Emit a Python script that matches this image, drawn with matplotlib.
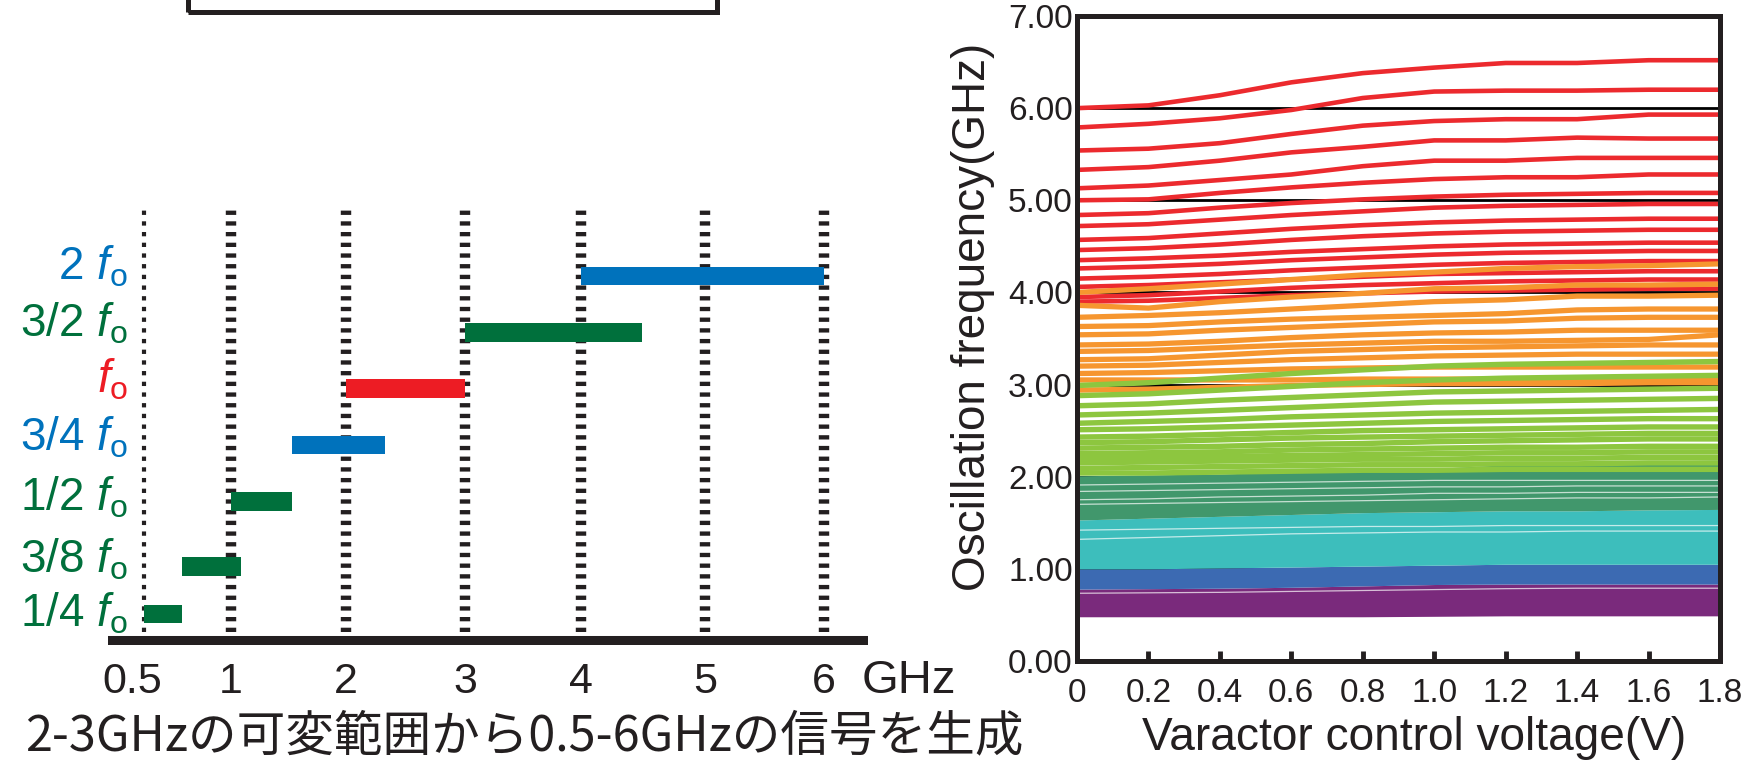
import numpy as np
import matplotlib
matplotlib.use('Agg')
import matplotlib.pyplot as plt
from matplotlib.patches import Rectangle
from matplotlib.transforms import ScaledTranslation

plt.rcParams['font.family'] = ['Liberation Sans', 'DejaVu Sans']
plt.rcParams['mathtext.fontset'] = 'custom'
plt.rcParams['mathtext.rm'] = 'Liberation Sans'
plt.rcParams['mathtext.it'] = 'Liberation Sans:italic'
plt.rcParams['lines.scale_dashes'] = False

# ---- left panel: divider outputs for a 2-3 GHz oscillator ----
grid_freqs = [0.5, 1, 2, 3, 4, 5, 6]
grid_labels = ['0.5', '1', '2', '3', '4', '5', '6']
ratio_labels = ['1/4', '3/8', '1/2', '3/4', '', '3/2', '2']
band_lo = [0.5, 0.72, 1.0, 1.53, 2.0, 3.0, 4.0]
band_hi = [0.72, 1.09, 1.53, 2.33, 3.0, 4.49, 6.0]
caption = '2-3GHzの可変範囲から0.5-6GHzの信号を生成'

# ---- right panel: oscillation frequency vs varactor voltage ----
voltage = [0.0, 0.2, 0.4, 0.6, 0.8, 1.0, 1.2, 1.4, 1.6, 1.8]
volt_labels = ['0', '0.2', '0.4', '0.6', '0.8', '1.0', '1.2', '1.4', '1.6', '1.8']

red_lines = [
    [6.00, 6.03, 6.14, 6.28, 6.38, 6.44, 6.49, 6.49, 6.52, 6.52],
    [5.79, 5.83, 5.89, 5.98, 6.11, 6.18, 6.19, 6.19, 6.20, 6.20],
    [5.54, 5.56, 5.62, 5.72, 5.81, 5.86, 5.88, 5.88, 5.93, 5.93],
    [5.33, 5.36, 5.43, 5.52, 5.58, 5.65, 5.65, 5.68, 5.67, 5.67],
    [5.13, 5.16, 5.22, 5.28, 5.37, 5.43, 5.43, 5.46, 5.46, 5.46],
    [5.00, 5.01, 5.08, 5.14, 5.19, 5.23, 5.25, 5.25, 5.28, 5.28],
    [4.84, 4.86, 4.92, 4.97, 5.01, 5.04, 5.06, 5.07, 5.08, 5.08],
    [4.72, 4.74, 4.79, 4.84, 4.88, 4.92, 4.94, 4.95, 4.96, 4.96],
    [4.57, 4.59, 4.64, 4.69, 4.73, 4.76, 4.78, 4.79, 4.80, 4.80],
    [4.46, 4.48, 4.52, 4.57, 4.61, 4.64, 4.66, 4.67, 4.68, 4.68],
    [4.35, 4.37, 4.40, 4.44, 4.47, 4.50, 4.52, 4.53, 4.54, 4.54],
    [4.26, 4.28, 4.31, 4.35, 4.38, 4.41, 4.43, 4.44, 4.45, 4.45],
    [4.15, 4.17, 4.20, 4.24, 4.27, 4.30, 4.32, 4.33, 4.34, 4.34],
    [4.06, 4.08, 4.11, 4.14, 4.17, 4.20, 4.21, 4.22, 4.23, 4.23],
    [3.95, 3.97, 4.01, 4.05, 4.08, 4.10, 4.12, 4.13, 4.14, 4.14],
    [3.90, 3.91, 3.94, 3.97, 3.99, 4.01, 4.02, 4.03, 4.04, 4.04],
]

orange_lines = [
    [4.00, 4.04, 4.09, 4.14, 4.19, 4.22, 4.26, 4.28, 4.29, 4.31],
    [3.86, 3.83, 3.90, 3.95, 3.99, 4.04, 4.05, 4.08, 4.08, 4.09],
    [3.73, 3.75, 3.78, 3.82, 3.86, 3.90, 3.92, 3.96, 3.96, 3.97],
    [3.63, 3.64, 3.68, 3.71, 3.73, 3.75, 3.77, 3.81, 3.82, 3.82],
    [3.54, 3.55, 3.59, 3.62, 3.65, 3.68, 3.69, 3.72, 3.73, 3.73],
    [3.43, 3.44, 3.47, 3.51, 3.54, 3.56, 3.57, 3.59, 3.59, 3.59],
    [3.36, 3.37, 3.40, 3.43, 3.45, 3.47, 3.47, 3.48, 3.49, 3.54],
    [3.27, 3.28, 3.32, 3.36, 3.38, 3.40, 3.41, 3.42, 3.43, 3.43],
    [3.20, 3.21, 3.24, 3.27, 3.29, 3.31, 3.32, 3.33, 3.33, 3.33],
    [3.12, 3.13, 3.15, 3.17, 3.18, 3.19, 3.19, 3.19, 3.19, 3.19],
    [3.05, 3.05, 3.05, 3.05, 3.06, 3.06, 3.06, 3.06, 3.06, 3.06],
    [2.94, 2.95, 2.97, 2.99, 3.00, 3.01, 3.01, 3.01, 3.02, 3.02],
]

green_lines = [
    [2.99, 3.02, 3.07, 3.12, 3.16, 3.20, 3.22, 3.23, 3.24, 3.25],
    [2.88, 2.90, 2.94, 2.98, 3.02, 3.05, 3.07, 3.08, 3.09, 3.10],
    [2.77, 2.79, 2.83, 2.86, 2.89, 2.92, 2.93, 2.94, 2.95, 2.96],
    [2.67, 2.69, 2.72, 2.75, 2.78, 2.81, 2.82, 2.83, 2.84, 2.85],
    [2.58, 2.60, 2.62, 2.65, 2.67, 2.69, 2.70, 2.71, 2.72, 2.73],
    [2.51, 2.52, 2.54, 2.56, 2.58, 2.60, 2.61, 2.62, 2.63, 2.63],
    [2.43, 2.44, 2.46, 2.48, 2.50, 2.51, 2.52, 2.53, 2.54, 2.54],
    [2.37, 2.38, 2.40, 2.42, 2.43, 2.44, 2.45, 2.46, 2.47, 2.47],
    [2.31, 2.32, 2.33, 2.35, 2.36, 2.38, 2.39, 2.40, 2.41, 2.41],
    [2.25, 2.26, 2.27, 2.29, 2.30, 2.31, 2.32, 2.32, 2.33, 2.33],
    [2.20, 2.21, 2.22, 2.23, 2.24, 2.25, 2.26, 2.26, 2.27, 2.27],
    [2.15, 2.16, 2.17, 2.18, 2.19, 2.19, 2.20, 2.20, 2.21, 2.21],
    [2.09, 2.10, 2.11, 2.12, 2.13, 2.13, 2.14, 2.14, 2.15, 2.15],
    [2.04, 2.04, 2.05, 2.06, 2.07, 2.07, 2.08, 2.08, 2.08, 2.08],
]

# dense low-frequency bands: lower / upper edges
purple_lo = [0.48, 0.48, 0.48, 0.48, 0.48, 0.485, 0.49, 0.49, 0.49, 0.49]
purple_hi = [0.78, 0.785, 0.79, 0.80, 0.815, 0.83, 0.835, 0.835, 0.835, 0.835]
blue_hi = [1.00, 1.00, 1.01, 1.02, 1.03, 1.04, 1.05, 1.05, 1.05, 1.05]
teal_hi = [1.53, 1.55, 1.57, 1.59, 1.61, 1.62, 1.63, 1.63, 1.64, 1.645]
dkgreen_hi = [2.01, 2.02, 2.03, 2.05, 2.07, 2.09, 2.13, 2.15, 2.17, 2.18]

# thin gaps between neighbouring curves inside the bands
gap_lines = [
    [0.735, 0.74, 0.745, 0.755, 0.765, 0.775, 0.785, 0.79, 0.79, 0.79],
    [1.32, 1.34, 1.36, 1.38, 1.39, 1.40, 1.40, 1.41, 1.41, 1.41],
    [1.42, 1.43, 1.44, 1.45, 1.46, 1.46, 1.47, 1.47, 1.47, 1.47],
    [1.70, 1.71, 1.72, 1.73, 1.74, 1.75, 1.76, 1.77, 1.77, 1.78],
    [1.75, 1.76, 1.78, 1.79, 1.80, 1.82, 1.82, 1.83, 1.83, 1.83],
    [1.84, 1.85, 1.86, 1.87, 1.88, 1.89, 1.89, 1.90, 1.90, 1.90],
    [1.91, 1.92, 1.93, 1.94, 1.95, 1.96, 1.96, 1.96, 1.96, 1.96],
]

INK = '#231F20'
BLUE = '#0072BC'
GREEN = '#00703C'
RED = '#ED1C24'
ratio_colors = [GREEN, GREEN, GREEN, BLUE, RED, GREEN, BLUE]

W, H = 1763, 766
fig = plt.figure(figsize=(W / 100, H / 100), dpi=100)

# ---------------- left panel ----------------
# non-uniform frequency axis, as spaced on the drawing
knot_f = [0.0, 0.5, 1.0, 2.0, 3.0, 4.0, 5.0, 6.0, 7.0]
knot_p = [57.0, 144.0, 231.0, 346.0, 465.0, 581.0, 705.0, 824.0, 943.0]


def fwd(f):
    return np.interp(f, knot_f, knot_p)


def inv(p):
    return np.interp(p, knot_p, knot_f)


ax1 = fig.add_axes([108 / W, (H - 645) / H, 760 / W, 445 / H])
ax1.set_xscale('function', functions=(fwd, inv))
ax1.set_xlim(inv(108.0), inv(868.0))
ax1.set_ylim(-0.55, 7.35)
for s in ax1.spines.values():
    s.set_visible(False)

row_y = [0, 0.84, 2, 3, 4, 5, 6]
label_y = [-0.23, 0.74, 1.84, 2.91, 3.94, 4.92, 5.93]

for f in grid_freqs:
    thin = f == grid_freqs[0]
    ax1.vlines(f, -0.32, 7.17, colors=INK, linewidth=3.0 if thin else 7.5,
               linestyles=(0, (3.1, 4.6)), zorder=1)

ax1.barh(row_y, np.subtract(band_hi, band_lo), left=band_lo, height=0.33,
         color=ratio_colors, zorder=3)
ax1.axhline(-0.47, color=INK, linewidth=6.5, zorder=4)

for y, r, c in zip(label_y, ratio_labels, ratio_colors):
    txt = (r + r' $\mathit{f}_{\mathrm{o}}$') if r else r'$\mathit{f}_{\mathrm{o}}$'
    ax1.text(0.026, y, txt, transform=ax1.get_yaxis_transform(), ha='right',
             va='baseline', color=c, fontsize=33)

ax1.set_yticks([])
ax1.set_xticks(grid_freqs, grid_labels)
ax1.tick_params(axis='x', length=0, labelsize=31, pad=12, labelcolor=INK)
first = ax1.get_xticklabels()[0]
first.set_transform(first.get_transform() + ScaledTranslation(-0.12, 0, fig.dpi_scale_trans))
fig.text(862 / W, 1 - 693 / H, 'GHz', ha='left', va='baseline', fontsize=34, color=INK)

fig.text(25 / W, 1 - 750 / H, caption, ha='left', va='baseline', fontsize=35,
         color=INK, family=['Noto Sans CJK JP', 'DejaVu Sans'])

# partly visible frame at the top edge
fig.patches.append(Rectangle((188 / W, 1 - 11.5 / H), (717 - 188) / W, 0.2,
                             transform=fig.transFigure, fill=False,
                             edgecolor=INK, linewidth=3.6, clip_on=False))

# ---------------- right panel ----------------
ax2 = fig.add_axes([1077 / W, 1 - 661 / H, 643 / W, 645 / H])
ax2.set_xlim(0, 1.8)
ax2.set_ylim(0, 7)

for g in range(1, 7):
    ax2.axhline(g, color='black', linewidth=2.0, zorder=1)

ax2.fill_between(voltage, purple_lo, purple_hi, color='#7A2A7C', lw=0, zorder=2)
ax2.fill_between(voltage, purple_hi, blue_hi, color='#3C6AB2', lw=0, zorder=2)
ax2.fill_between(voltage, blue_hi, teal_hi, color='#3DBEBC', lw=0, zorder=2)
ax2.fill_between(voltage, teal_hi, dkgreen_hi, color='#41976C', lw=0, zorder=2)
for g in gap_lines:
    ax2.plot(voltage, g, color='white', lw=0.9, alpha=0.7, zorder=2.5)

for r in red_lines:
    ax2.plot(voltage, r, color='#EC2A2E', lw=3.3, solid_capstyle='butt', zorder=3)
for o in orange_lines:
    ax2.plot(voltage, o, color='#F6962F', lw=3.8, solid_capstyle='butt', zorder=4)
for g in green_lines:
    ax2.plot(voltage, g, color='#8DC63F', lw=3.9, solid_capstyle='butt', zorder=5)

for s in ax2.spines.values():
    s.set_linewidth(3.6)
    s.set_color(INK)
    s.set_zorder(10)

ax2.set_xticks(voltage, volt_labels)
ax2.set_yticks(range(8), ['%.2f' % v for v in range(8)])
ax2.tick_params(axis='x', direction='in', length=7, width=3.5, color=INK,
                labelsize=24, pad=12, labelcolor=INK)
ax2.tick_params(axis='y', length=0, pad=3, labelsize=24, labelcolor=INK)

ax2.set_ylabel('Oscillation frequency(GHz)', fontsize=33, color=INK)
ax2.yaxis.set_label_coords(-0.1275, 0.533)

# x label sized so that it spans 545 px, sitting on a fixed baseline
xlab = ax2.set_xlabel('Varactor control voltage(V)', fontsize=33, color=INK)
xlab.set_verticalalignment('baseline')
ax2.xaxis.set_label_coords(0.524, -0.138)
renderer = fig.canvas.get_renderer()
width_px = xlab.get_window_extent(renderer).width
xlab.set_fontsize(33 * 545.0 / width_px)

fig.savefig('out.png', dpi=100)
